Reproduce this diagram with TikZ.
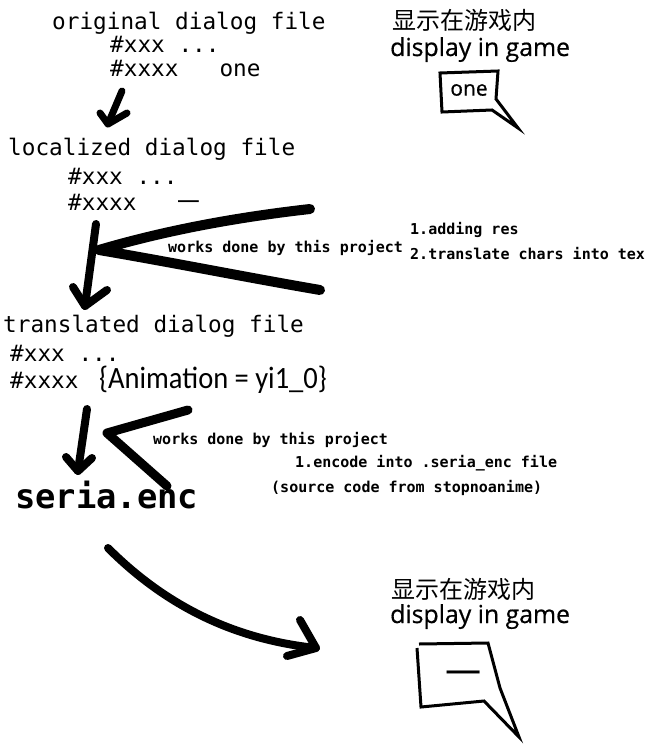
\documentclass[tikz,border=0pt]{standalone}
\usepackage{fontspec}
\setmonofont{DejaVu Sans Mono}
\newfontfamily\cjkfont{Noto Sans CJK SC}
\newfontfamily\gamefont[FakeBold=0.6]{Open Sans}
\newfontfamily\animfont[FakeStretch=0.92]{Carlito}
\usetikzlibrary{calc}
\tikzset{
  filetxt/.style={font=\ttfamily\fontsize{22.7}{26}\selectfont, anchor=base west, inner sep=0pt},
  worktxt/.style={font=\ttfamily\bfseries\fontsize{15}{18}\selectfont, anchor=base west, inner sep=0pt},
  gametxt/.style={font=\gamefont\fontsize{24.8}{28}\selectfont, anchor=base west, inner sep=0pt},
  cjktxt/.style={font=\cjkfont\fontsize{24}{28}\selectfont, anchor=base west, inner sep=0pt},
  pen/.style={line width=#1, line cap=round, line join=round},   % hand-drawn stroke
  bubble/.style={line width=3pt, line join=miter},                  % speech bubble outline
}
% arrow head drawn as two barbs meeting at the tip
\newcommand{\barbs}[4]{\draw[pen=#4] (#1) -- (#2) -- (#3);}
\begin{document}
\begin{tikzpicture}[x=1pt,y=-1pt]
  \useasboundingbox (0,0) rectangle (656,749);

  % original file
  \node[filetxt] (origT) at (52,30) {original dialog file};
  \node[filetxt] (origA) at (110,53) {\#xxx ...};
  \node[filetxt] (origB) at (110,77) {\#xxxx\ \ \ one};

  % first in-game display
  \node[cjktxt]  (game1C) at (392,30) {显示在游戏内};
  \node[gametxt] (game1E) at (390,56) {display in game};
  \draw[bubble] (440,73) -- (498,71) -- (496,99) -- (518,128) -- (492,110) -- (442,112) -- cycle;
  \node[font=\gamefont\fontsize{21}{24}\selectfont, inner sep=0pt] (one) at (469,90) {one};

  % localized file
  \node[filetxt] (locT) at (8,155) {localized dialog file};
  \node[filetxt] (locA) at (68,184) {\#xxx ...};
  \node[filetxt] (locB) at (68,210) {\#xxxx\ \ \ {\cjkfont 一}};

  \coordinate (a1s) at (122,91);
  \coordinate (a1e) at (108,124);
  \draw[pen=7pt] (a1s) -- (a1e);
  \barbs{100,113}{a1e}{127,113}{7pt}

  % works 1
  \coordinate (w1top) at (310,209);
  \coordinate (w1tip) at (99,250);
  \coordinate (w1bot) at (320,290);
  \draw[pen=10pt] (w1top) .. controls (230,218) and (160,232) .. (w1tip)
                  .. controls (170,262) and (250,278) .. (w1bot);
  \node[worktxt] (work1) at (168,252) {works done by this project};
  \node[worktxt] (step1a) at (410,234) {1.adding res};
  \node[worktxt] (step1b) at (410,259) {2.translate chars into tex};

  \coordinate (a2s) at (96,224);
  \coordinate (a2e) at (85,306);
  \draw[pen=8pt] (a2s) -- (a2e);
  \barbs{73,287}{a2e}{107,290}{8pt}

  % translated file
  \node[filetxt] (trT) at (3,332) {translated dialog file};
  \node[filetxt] (trA) at (10,361) {\#xxx ...};
  \node[filetxt] (trB) at (10,388) {\#xxxx};
  \node[font=\animfont\fontsize{31}{34}\selectfont, anchor=base west, inner sep=0pt] (anim) at (99,388) {\{Animation = yi1\_0\}};

  \coordinate (a3s) at (87,409);
  \coordinate (a3e) at (78,471);
  \draw[pen=8pt] (a3s) -- (a3e);
  \barbs{66,457}{a3e}{92,458}{8pt}

  % works 2
  \coordinate (w2top) at (188,410);
  \coordinate (w2tip) at (107,433);
  \coordinate (w2bot) at (167,486);
  \draw[pen=9pt] (w2top) -- (w2tip) -- (w2bot);
  \node[worktxt] (work2) at (153,444) {works done by this project};
  \node[worktxt] (step2a) at (295,467) {1.encode into .seria\_enc file};
  \node[worktxt] (step2b) at (271,492) {(source code from stopnoanime)};

  \node[font=\ttfamily\bfseries\fontsize{33.8}{38}\selectfont, anchor=base west, inner sep=0pt] (enc) at (15,508) {seria.enc};

  % second in-game display
  \coordinate (a4s) at (108,548);
  \coordinate (a4e) at (316,648);
  \draw[pen=8pt] (a4s) .. controls (170,610) and (240,640) .. (a4e);
  \barbs{300,620}{a4e}{287,656}{8pt}

  \node[cjktxt]  (game2C) at (391,598) {显示在游戏内};
  \node[gametxt] (game2E) at (390,623) {display in game};
  \draw[bubble] (419,644) -- (488,643) -- (500,688) -- (519,737) -- (484,701) -- (421,707) -- (417,648);
  \node[font=\cjkfont\fontsize{36}{40}\selectfont, inner sep=0pt] (yi) at (463,679) {一};
\end{tikzpicture}
\end{document}
